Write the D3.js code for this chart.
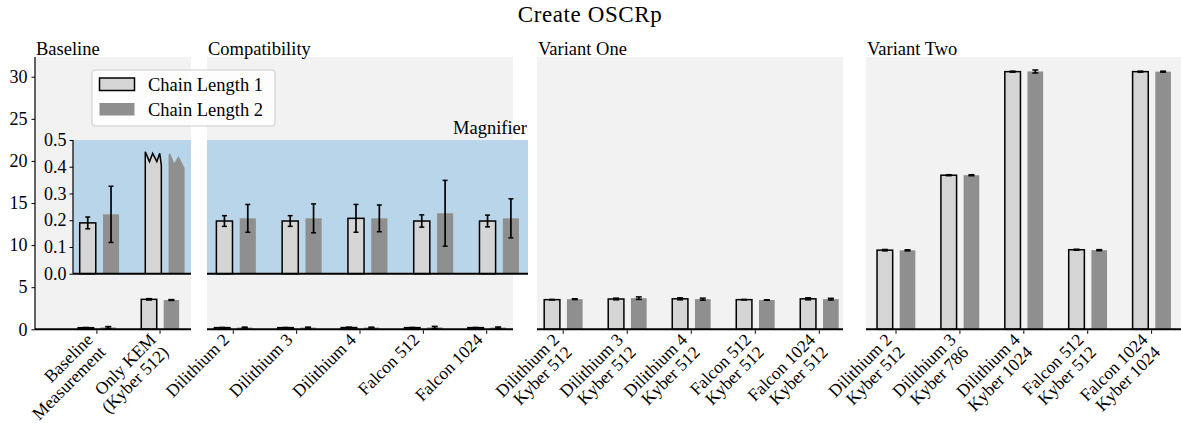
<!DOCTYPE html>
<html>
<head>
<meta charset="utf-8">
<script src="https://cdn.jsdelivr.net/npm/d3@7"></script>
<style>
  html, body { margin: 0; padding: 0; background: #fff; }
  svg { display: block; }
</style>
</head>
<body>
<svg id="chart" width="1181" height="423"></svg>
<script>
// ---- data ----
const seriesNames = ["Chain Length 1", "Chain Length 2"];

const baselineLabels = [["Baseline", "Measurement"], ["Only KEM", "(Kyber 512)"]];
const baselineCL1 = [0.19, 3.56];
const baselineCL1Err = [0.022, 0.08];
const baselineCL2 = [0.222, 3.48];
const baselineCL2Err = [0.105, 0.05];

const compatLabels = ["Dilithium 2", "Dilithium 3", "Dilithium 4", "Falcon 512", "Falcon 1024"];
const compatCL1 = [0.197, 0.197, 0.207, 0.197, 0.197];
const compatCL1Err = [0.02, 0.02, 0.052, 0.023, 0.022];
const compatCL2 = [0.207, 0.207, 0.207, 0.226, 0.207];
const compatCL2Err = [0.052, 0.054, 0.05, 0.123, 0.073];

const variantOneLabels = [["Dilithium 2", "Kyber 512"], ["Dilithium 3", "Kyber 512"], ["Dilithium 4", "Kyber 512"], ["Falcon 512", "Kyber 512"], ["Falcon 1024", "Kyber 512"]];
const variantOneCL1 = [3.52, 3.6, 3.62, 3.52, 3.62];
const variantOneCL1Err = [0.03, 0.1, 0.12, 0.03, 0.12];
const variantOneCL2 = [3.58, 3.7, 3.58, 3.48, 3.58];
const variantOneCL2Err = [0.05, 0.15, 0.12, 0.03, 0.1];

const variantTwoLabels = [["Dilithium 2", "Kyber 512"], ["Dilithium 3", "Kyber 786"], ["Dilithium 4", "Kyber 1024"], ["Falcon 512", "Kyber 512"], ["Falcon 1024", "Kyber 1024"]];
const variantTwoCL1 = [9.4, 18.3, 30.6, 9.45, 30.6];
const variantTwoCL1Err = [0.08, 0.06, 0.06, 0.06, 0.06];
const variantTwoCL2 = [9.38, 18.3, 30.62, 9.4, 30.6];
const variantTwoCL2Err = [0.06, 0.06, 0.18, 0.06, 0.06];

const mainTicks = [0, 5, 10, 15, 20, 25, 30];
const insetTicks = [0, 0.1, 0.2, 0.3, 0.4, 0.5];

// ---- style ----
const FONT = '"Liberation Serif", "Times New Roman", serif';
const COLORS = ["#d5d5d5", "#8f8f8f"];
const PANEL_BG = "#f2f2f2";
const INSET_BG = "#b9d5ea";
const BAR_OFFSETS = [-0.175, 0.18];
const BAR_WIDTH = 0.245;

// torn top edge used when a bar runs past the magnifier's range
const tornEdge = [
  [[0, 0.456], [0.26, 0.419], [0.46, 0.45], [0.72, 0.419], [0.9, 0.45], [1, 0.405]],
  [[0, 0.445], [0.1, 0.45], [0.35, 0.413], [0.62, 0.44], [1, 0.395]]
];

const svg = d3.select("#chart").style("font-family", FONT);
svg.append("rect").attr("width", 1181).attr("height", 423).attr("fill", "#fff");

const Y_BOTTOM = 329.3, Y_TOP = 57;
const y = d3.scaleLinear().domain([0, 32.34]).range([Y_BOTTOM, Y_TOP]);

const panels = [
  { title: "Baseline", x0: 35, x1: 191, dom: [-0.98, 1.49], labels: baselineLabels,
    s: [[baselineCL1, baselineCL1Err], [baselineCL2, baselineCL2Err]] },
  { title: "Compatibility", x0: 207, x1: 513, dom: [-0.415, 4.415], labels: compatLabels,
    s: [[compatCL1, compatCL1Err], [compatCL2, compatCL2Err]] },
  { title: "Variant One", x0: 537, x1: 843, dom: [-0.41, 4.37], labels: variantOneLabels,
    s: [[variantOneCL1, variantOneCL1Err], [variantOneCL2, variantOneCL2Err]] },
  { title: "Variant Two", x0: 866, x1: 1181, dom: [-0.47, 4.46], labels: variantTwoLabels,
    s: [[variantTwoCL1, variantTwoCL1Err], [variantTwoCL2, variantTwoCL2Err]] }
];

function drawBars(g, x, yS, series, capHalf, maxVal) {
  series.forEach(([vals, errs], si) => {
    vals.forEach((v, i) => {
      const left = x(i + BAR_OFFSETS[si] - BAR_WIDTH / 2);
      const right = x(i + BAR_OFFSETS[si] + BAR_WIDTH / 2);
      const y0 = yS(0);
      if (maxVal !== undefined && v > maxVal) {
        // bar continues beyond the visible range: torn top
        const pts = [[left, y0]];
        tornEdge[si].forEach(([f, val]) => pts.push([left + f * (right - left), yS(val)]));
        pts.push([right, y0]);
        g.append("path")
          .attr("d", d3.line()(pts))
          .attr("fill", COLORS[si])
          .attr("stroke", si === 0 ? "#000" : "none")
          .attr("stroke-width", 1.5)
          .attr("stroke-linejoin", "miter");
        return;
      }
      g.append("rect")
        .attr("x", left).attr("width", right - left)
        .attr("y", yS(v)).attr("height", y0 - yS(v))
        .attr("fill", COLORS[si])
        .attr("stroke", si === 0 ? "#000" : "none")
        .attr("stroke-width", 1.5);
      const e = errs[i];
      const cx = (left + right) / 2;
      g.append("line").attr("x1", cx).attr("x2", cx)
        .attr("y1", yS(v - e)).attr("y2", yS(v + e))
        .attr("stroke", "#000").attr("stroke-width", 1.7);
      [v - e, v + e].forEach(t => {
        g.append("line").attr("x1", cx - capHalf).attr("x2", cx + capHalf)
          .attr("y1", yS(t)).attr("y2", yS(t))
          .attr("stroke", "#000").attr("stroke-width", 1.5);
      });
    });
  });
}

function tickLabels(g, x, labels) {
  labels.forEach((lab, i) => {
    const lines = Array.isArray(lab) ? lab : [lab];
    const t = g.append("text")
      .attr("transform", `translate(${x(i) - 3},${Y_BOTTOM + 11.5}) rotate(-45)`)
      .attr("text-anchor", "end")
      .attr("font-size", 17.5)
      .attr("fill", "#000");
    lines.forEach((l, k) => t.append("tspan").attr("x", 0).attr("y", k * 17.8).text(l));
  });
}

// ---- main panels ----
panels.forEach((p) => {
  const x = d3.scaleLinear().domain(p.dom).range([p.x0, p.x1]);
  const g = svg.append("g");
  g.append("rect").attr("x", p.x0).attr("y", Y_TOP).attr("width", p.x1 - p.x0)
    .attr("height", Y_BOTTOM - Y_TOP).attr("fill", PANEL_BG);
  drawBars(g, x, y, p.s, 3);
  // bottom spine + ticks
  g.append("line").attr("x1", p.x0).attr("x2", p.x1).attr("y1", Y_BOTTOM).attr("y2", Y_BOTTOM)
    .attr("stroke", "#000").attr("stroke-width", 2);
  p.labels.forEach((_, i) => {
    g.append("line").attr("x1", x(i)).attr("x2", x(i)).attr("y1", Y_BOTTOM + 1).attr("y2", Y_BOTTOM + 4.5)
      .attr("stroke", "#000").attr("stroke-width", 1);
  });
  tickLabels(g, x, p.labels);
  g.append("text").attr("x", p.x0 + 1).attr("y", 55).attr("font-size", 18.5).text(p.title);
});

// y axis on the first panel
const yAxisG = svg.append("g").attr("transform", `translate(${panels[0].x0},0)`);
yAxisG.call(d3.axisLeft(y).tickValues(mainTicks).tickSize(3.5).tickPadding(4).tickFormat(d3.format("d")));
yAxisG.select(".domain").remove();
yAxisG.append("line").attr("x1", 0).attr("x2", 0).attr("y1", Y_TOP).attr("y2", Y_BOTTOM)
  .attr("stroke", "#000").attr("stroke-width", 1.2);
yAxisG.selectAll(".tick text").attr("font-family", FONT).attr("font-size", 18).attr("fill", "#000");
yAxisG.selectAll(".tick line").attr("stroke", "#000");

// ---- magnifier inset ----
const INSET_TOP = 140, INSET_BOTTOM = 273.7;
const yIn = d3.scaleLinear().domain([0, 0.5]).range([INSET_BOTTOM, INSET_TOP]);
const insets = [
  { x0: 73, x1: 191, dom: [-0.4, 1.4], src: panels[0] },
  { x0: 207, x1: 528, dom: [-0.44, 4.44], src: panels[1] }
];
insets.forEach((ins) => {
  const x = d3.scaleLinear().domain(ins.dom).range([ins.x0, ins.x1]);
  const g = svg.append("g");
  g.append("rect").attr("x", ins.x0).attr("y", INSET_TOP).attr("width", ins.x1 - ins.x0)
    .attr("height", INSET_BOTTOM - INSET_TOP).attr("fill", INSET_BG);
  drawBars(g, x, yIn, ins.src.s, 2.5, 0.5);
  g.append("line").attr("x1", ins.x0).attr("x2", ins.x1).attr("y1", INSET_BOTTOM).attr("y2", INSET_BOTTOM)
    .attr("stroke", "#000").attr("stroke-width", 2);
});
const yInG = svg.append("g").attr("transform", `translate(${insets[0].x0},0)`);
yInG.call(d3.axisLeft(yIn).tickValues(insetTicks).tickSize(3.5).tickPadding(3).tickFormat(d3.format(".1f")));
yInG.select(".domain").remove();
yInG.append("line").attr("x1", 0).attr("x2", 0).attr("y1", INSET_TOP).attr("y2", INSET_BOTTOM)
  .attr("stroke", "#000").attr("stroke-width", 1.2);
yInG.selectAll(".tick text").attr("font-family", FONT).attr("font-size", 18).attr("fill", "#000");
yInG.selectAll(".tick line").attr("stroke", "#000");
svg.append("text").attr("x", 527).attr("y", 134).attr("text-anchor", "end")
  .attr("font-size", 18.5).text("Magnifier");

// ---- legend ----
const lg = svg.append("g");
lg.append("rect").attr("x", 92).attr("y", 70).attr("width", 183).attr("height", 56).attr("rx", 3)
  .attr("fill", "#fff").attr("fill-opacity", 0.8).attr("stroke", "#cccccc");
seriesNames.forEach((n, i) => {
  lg.append("rect").attr("x", 99.5).attr("y", 78 + i * 25).attr("width", 35).attr("height", 12.5)
    .attr("fill", COLORS[i]).attr("stroke", i === 0 ? "#000" : "none").attr("stroke-width", 1.5);
  lg.append("text").attr("x", 148).attr("y", 90.5 + i * 25).attr("font-size", 18.5).text(n);
});

// ---- title ----
svg.append("text").attr("x", 590).attr("y", 22).attr("text-anchor", "middle")
  .attr("font-size", 23).attr("letter-spacing", 0.6).text("Create OSCRp");
</script>
</body>
</html>
